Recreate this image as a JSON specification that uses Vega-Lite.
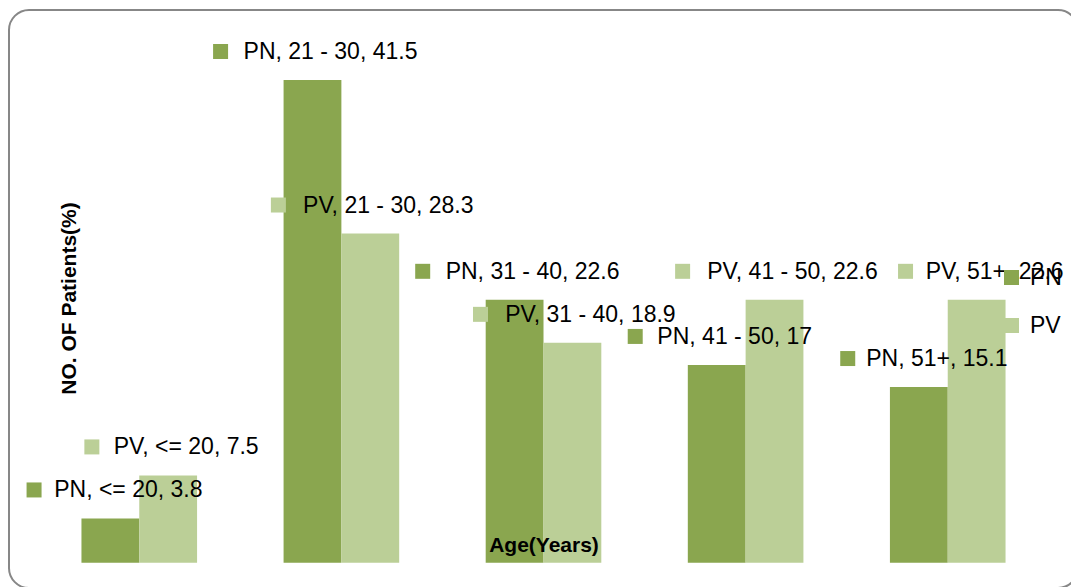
{
  "$schema": "https://vega.github.io/schema/vega-lite/v6.json",
  "width": 1069,
  "height": 578,
  "autosize": "none",
  "padding": {"left": 9, "top": 10, "right": -7, "bottom": -1},
  "background": "white",
  "data": {
    "values": [
      {"age": "<= 20", "series": "PN", "value": 3.8},
      {"age": "<= 20", "series": "PV", "value": 7.5},
      {"age": "21 - 30", "series": "PN", "value": 41.5},
      {"age": "21 - 30", "series": "PV", "value": 28.3},
      {"age": "31 - 40", "series": "PN", "value": 22.6},
      {"age": "31 - 40", "series": "PV", "value": 18.9},
      {"age": "41 - 50", "series": "PN", "value": 17},
      {"age": "41 - 50", "series": "PV", "value": 22.6},
      {"age": "51+", "series": "PN", "value": 15.1},
      {"age": "51+", "series": "PV", "value": 22.6}
    ]
  },
  "transform": [
    {"calculate": "datum.series + ', ' + datum.age + ', ' + datum.value", "as": "label"}
  ],
  "encoding": {
    "x": {
      "field": "age",
      "type": "nominal",
      "sort": ["<= 20", "21 - 30", "31 - 40", "41 - 50", "51+"],
      "scale": {"paddingInner": 0.428, "paddingOuter": 0.3585},
      "axis": {
        "title": "Age(Years)",
        "labels": false,
        "ticks": false,
        "domain": false,
        "grid": false,
        "zindex": 1,
        "titleFont": "Liberation Sans",
        "titleFontSize": 21,
        "titleFontWeight": "bold",
        "titleColor": "black",
        "titleX": 534.5,
        "titleY": -43,
        "titleAlign": "center",
        "titleBaseline": "middle"
      }
    },
    "y": {
      "field": "value",
      "type": "quantitative",
      "scale": {"domain": [-2.18, 47.52], "nice": false, "zero": false},
      "axis": {
        "title": "NO. OF Patients(%)",
        "labels": false,
        "ticks": false,
        "domain": false,
        "grid": false,
        "zindex": 1,
        "titleFont": "Liberation Sans",
        "titleFontSize": 21,
        "titleFontWeight": "bold",
        "titleColor": "black",
        "titleAngle": -90,
        "titleX": 60,
        "titleY": 288,
        "titleAlign": "center",
        "titleBaseline": "middle"
      }
    }
  },
  "layer": [
    {
      "mark": {"type": "bar"},
      "encoding": {
        "xOffset": {"field": "series", "type": "nominal", "sort": ["PN", "PV"]},
        "color": {
          "field": "series",
          "type": "nominal",
          "scale": {"domain": ["PN", "PV"], "range": ["#8AA64F", "#BBCF97"]},
          "legend": {
            "title": null,
            "orient": "none",
            "legendX": 991,
            "legendY": 256,
            "symbolType": "square",
            "symbolSize": 225,
            "symbolStrokeWidth": 0,
            "labelFont": "Liberation Sans",
            "labelFontSize": 23,
            "labelColor": "black",
            "labelOffset": 7,
            "rowPadding": 24,
            "padding": 0
          }
        }
      }
    },
    {
      "transform": [{"filter": "datum.series === 'PN'"}],
      "mark": {
        "type": "point",
        "shape": "square",
        "filled": true,
        "opacity": 1,
        "size": 225,
        "yOffset": -28.5,
        "xOffset": {"expr": "-3.5 - 5.2 * length(datum.label)"}
      },
      "encoding": {
        "x": {
          "field": "age",
          "type": "nominal",
          "bandPosition": 0.25,
          "sort": ["<= 20", "21 - 30", "31 - 40", "41 - 50", "51+"]
        },
        "color": {"field": "series", "type": "nominal"}
      }
    },
    {
      "transform": [{"filter": "datum.series === 'PV'"}],
      "mark": {
        "type": "point",
        "shape": "square",
        "filled": true,
        "opacity": 1,
        "size": 225,
        "yOffset": -28.5,
        "xOffset": {"expr": "-3.5 - 5.2 * length(datum.label)"}
      },
      "encoding": {
        "x": {
          "field": "age",
          "type": "nominal",
          "bandPosition": 0.75,
          "sort": ["<= 20", "21 - 30", "31 - 40", "41 - 50", "51+"]
        },
        "color": {"field": "series", "type": "nominal"}
      }
    },
    {
      "mark": {
        "type": "text",
        "font": "Liberation Sans",
        "fontSize": 23,
        "align": "center",
        "baseline": "middle",
        "dx": 18,
        "dy": -28,
        "color": "black"
      },
      "encoding": {
        "xOffset": {"field": "series", "type": "nominal", "sort": ["PN", "PV"]},
        "text": {"field": "label"}
      }
    }
  ],
  "config": {
    "font": "Liberation Sans",
    "view": {"stroke": "#878787", "strokeWidth": 2, "cornerRadius": 20, "fill": "white"}
  }
}
